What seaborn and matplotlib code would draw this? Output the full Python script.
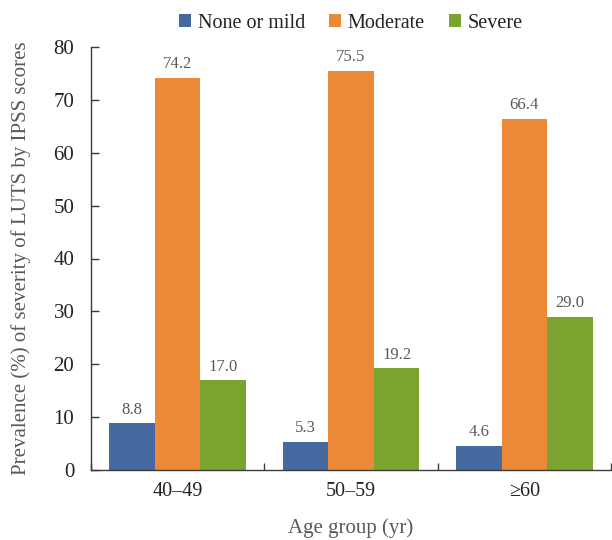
import matplotlib
matplotlib.use("Agg")
import matplotlib.pyplot as plt
import seaborn as sns
import pandas as pd
from matplotlib.ticker import FixedLocator

# Prevalence of LUTS severity (IPSS) by age group
age_groups = ["40–49", "50–59", "≥60"]
severity = ["None or mild", "Moderate", "Severe"]
none_or_mild = [8.8, 5.3, 4.6]
moderate = [74.2, 75.5, 66.4]
severe = [17.0, 19.2, 29.0]
bar_colors = ["#46699F", "#EB8936", "#7BA32F"]

df = pd.DataFrame({
    "age": age_groups * 3,
    "severity": [s for s in severity for _ in age_groups],
    "value": none_or_mild + moderate + severe,
})

sns.set_style("white")
plt.rcParams["font.family"] = ["Liberation Serif", "DejaVu Serif"]

fig = plt.figure(figsize=(6.12, 5.4), dpi=100)
ax = fig.add_axes([91 / 612, 1 - 470 / 540, 520 / 612, 423 / 540])

sns.barplot(data=df, x="age", y="value", hue="severity",
            order=age_groups, hue_order=severity,
            palette=bar_colors, saturation=1, width=0.79,
            edgecolor="none", linewidth=0, ax=ax)

# value labels above each bar
series_values = [none_or_mild, moderate, severe]
for container, vals in zip(ax.containers, series_values):
    ax.bar_label(container, labels=[f"{v:.1f}" for v in vals], padding=4,
                 fontsize=12, color="#595959")

ax.set_xlim(-0.5, 2.5)
ax.set_ylim(0, 80)
ax.set_yticks(range(0, 81, 10))

for side in ("top", "right"):
    ax.spines[side].set_visible(False)
for side in ("left", "bottom"):
    ax.spines[side].set_color("#3a3a3a")
    ax.spines[side].set_linewidth(1.0)

# category boundaries marked with short inward ticks
ax.xaxis.set_minor_locator(FixedLocator([-0.5, 0.5, 1.5, 2.5]))
ax.tick_params(axis="x", which="major", length=0, pad=9,
               labelsize=14.5, labelcolor="#222222")
ax.tick_params(axis="x", which="minor", direction="in", length=5,
               width=1, color="#3a3a3a", bottom=True)
ax.tick_params(axis="y", which="major", direction="in", length=5.5,
               width=1, color="#3a3a3a", pad=12, labelsize=15,
               labelcolor="#222222", left=True)

ax.set_xlabel("Age group (yr)", fontsize=15, color="#595959")
ax.xaxis.label.set_va("baseline")
ax.xaxis.set_label_coords(0.5, -0.149)
ax.set_ylabel("Prevalence (%) of severity of LUTS by IPSS scores",
              fontsize=15, color="#595959")
ax.yaxis.label.set_va("center")
ax.yaxis.set_label_coords(-0.135, 0.5)

handles, labels = ax.get_legend_handles_labels()
ax.get_legend().remove()
fig.legend(handles, labels, loc="center",
           bbox_to_anchor=((91 + 611) / 2 / 612, 1 - 23 / 540),
           ncol=3, frameon=False, fontsize=14.5,
           handlelength=0.57, handleheight=0.57, handletextpad=0.35,
           columnspacing=1.2, borderaxespad=0, labelcolor="#222222")

fig.savefig("out.png", dpi=100)
